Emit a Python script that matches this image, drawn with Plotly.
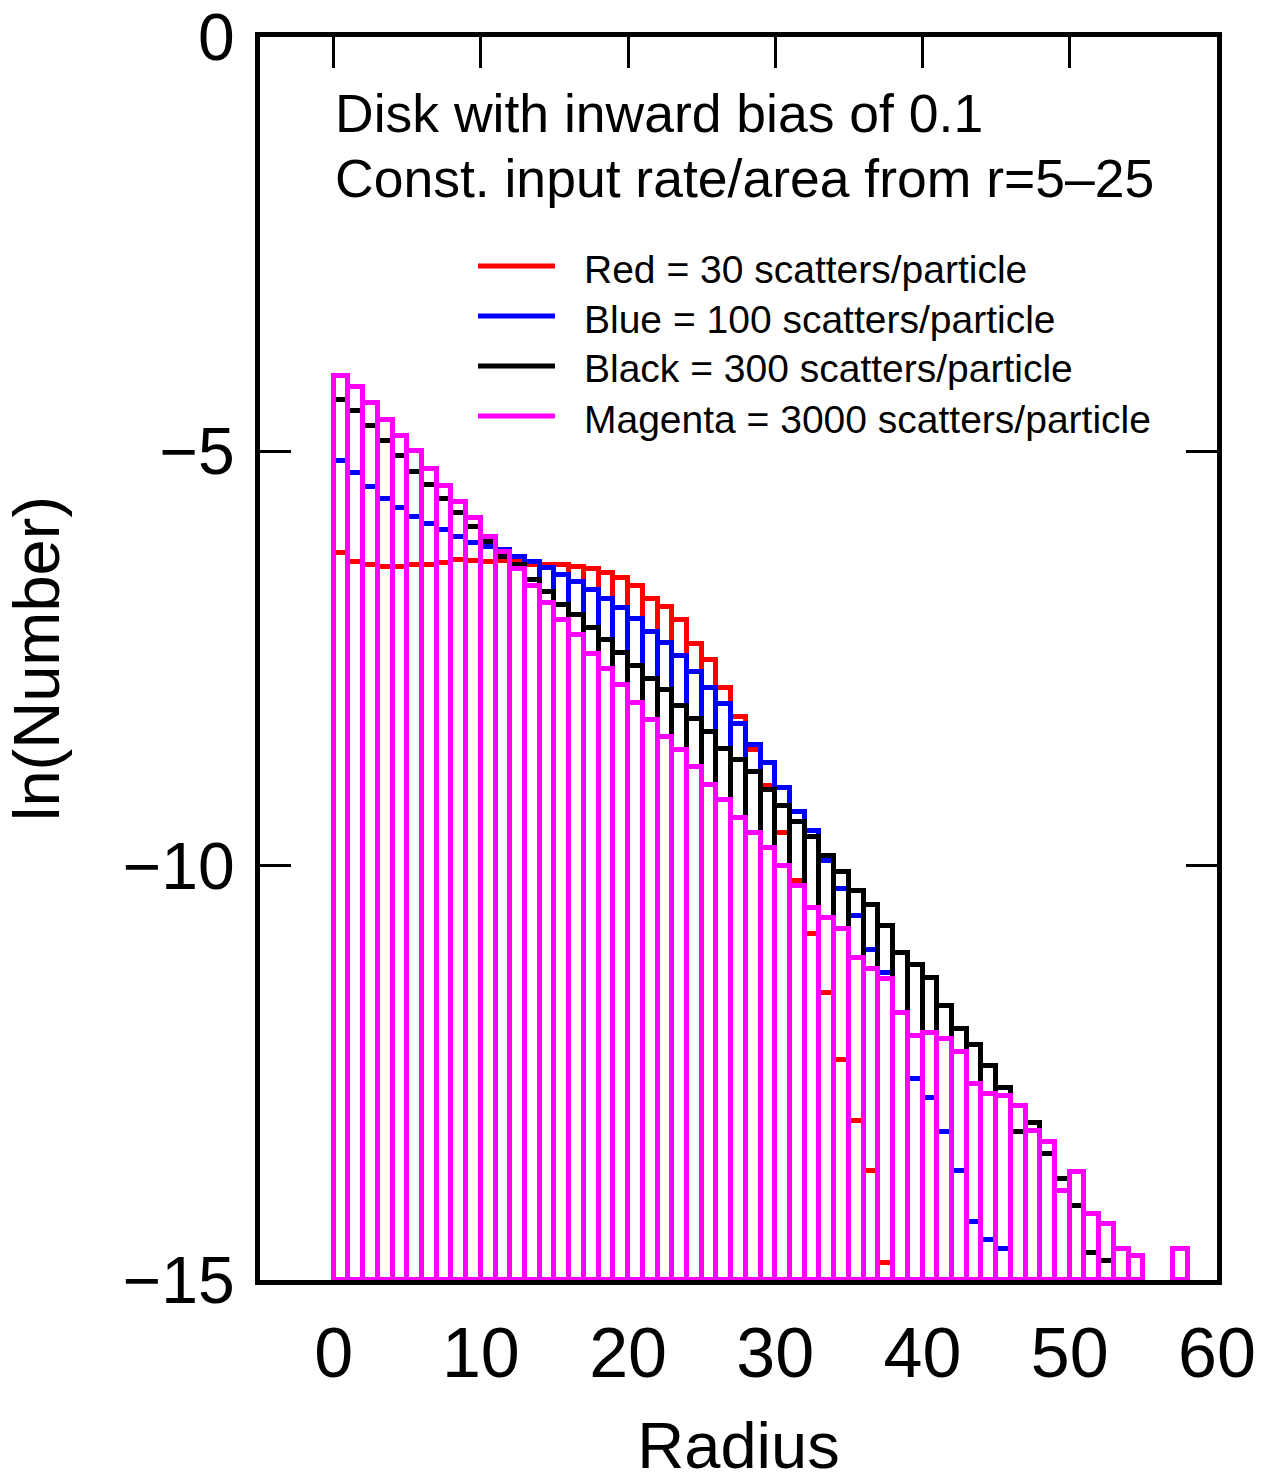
import plotly.graph_objects as go

# Histogram values ln(Number) per radius bin (bin i spans [i, i+1]); None = empty bin
red = [-6.23, -6.33, -6.37, -6.39, -6.39, -6.37, -6.37, -6.35, -6.31, -6.32,
       -6.33, -6.32, -6.34, -6.37, -6.37, -6.37, -6.39, -6.42, -6.47, -6.53,
       -6.62, -6.78, -6.88, -7.03, -7.33, -7.52, -7.86, -8.20, -8.61, -9.04,
       -9.60, -10.19, -10.82, -11.54, -12.35, -13.08, -13.68, -14.79]
blue = [-5.12, -5.26, -5.43, -5.58, -5.68, -5.79, -5.88, -5.95, -6.03, -6.11,
        -6.15, -6.19, -6.27, -6.33, -6.41, -6.49, -6.58, -6.67, -6.78, -6.89,
        -7.02, -7.18, -7.31, -7.47, -7.66, -7.86, -8.05, -8.29, -8.54, -8.76,
        -9.06, -9.35, -9.58, -9.94, -10.28, -10.61, -11.02, -11.29, -11.78, -12.57,
        -12.80, -13.21, -13.69, -14.30, -14.52, -14.62]
black = [-4.375, -4.51, -4.69, -4.88, -5.06, -5.25, -5.41, -5.58, -5.75, -5.91,
         -6.09, -6.27, -6.37, -6.55, -6.70, -6.85, -6.98, -7.13, -7.28, -7.43,
         -7.59, -7.75, -7.88, -8.07, -8.23, -8.39, -8.59, -8.73, -8.87, -9.09,
         -9.28, -9.47, -9.65, -9.88, -10.08, -10.31, -10.47, -10.73, -11.05, -11.20,
         -11.35, -11.69, -11.97, -12.17, -12.42, -12.68, -13.21, -13.10, -13.48, -13.78,
         -14.11, -14.67, -14.77]
magenta = [-4.09, -4.22, -4.42, -4.62, -4.82, -5.00, -5.21, -5.42, -5.61, -5.81,
           -6.03, -6.21, -6.42, -6.63, -6.83, -7.03, -7.22, -7.44, -7.63, -7.82,
           -8.04, -8.24, -8.45, -8.61, -8.81, -9.03, -9.21, -9.42, -9.60, -9.79,
           -10.00, -10.25, -10.51, -10.63, -10.77, -11.11, -11.25, -11.37, -11.78, -12.06,
           -12.02, -12.09, -12.25, -12.63, -12.76, -12.78, -12.90, -13.20, -13.33, -13.93,
           -13.70, -14.20, -14.32, -14.63, -14.71, None, None, -14.63]

series = [
    ("Red = 30 scatters/particle", red, "#ff0000"),
    ("Blue = 100 scatters/particle", blue, "#0000ff"),
    ("Black = 300 scatters/particle", black, "#000000"),
    ("Magenta = 3000 scatters/particle", magenta, "#ff00ff"),
]
title_lines = ["Disk with inward bias of 0.1", "Const. input rate/area from r=5\u201325"]
x_ticks = [0, 10, 20, 30, 40, 50, 60]
y_ticks = [0, -5, -10, -15]
x_range = [-5, 60]
y_range = [-15, 0]
y_base = -15

FONT = "Liberation Sans, Arial, Helvetica, sans-serif"
W, H = 1265, 1482
L, R, T, B = 260, 48, 37, 202
pw, ph = W - L - R, H - T - B

def px(xp):
    return (xp - L) / pw

def py(yp):
    return 1 - (yp - T) / ph

fig = go.Figure()
for name, vals, col in series:
    xs = [i + 0.5 for i, v in enumerate(vals) if v is not None]
    hs = [v - y_base for v in vals if v is not None]
    fig.add_trace(go.Bar(
        x=xs, y=hs, base=y_base, width=1, name=name, showlegend=False,
        marker=dict(color="rgba(0,0,0,0)", line=dict(color=col, width=5)),
    ))
# empty trace that carries the top (tick-only) x axis
fig.add_trace(go.Scatter(x=[], y=[], xaxis="x2", yaxis="y", showlegend=False))

annotations = []
shapes = []
for k, t in enumerate(title_lines):
    annotations.append(dict(
        text=t, xref="paper", yref="paper", x=px(333), y=py(114 + 65 * k),
        xanchor="left", yanchor="middle", showarrow=False,
        font=dict(family=FONT, size=53.5, color="black")))
for k, (name, vals, col) in enumerate(series):
    yy = 266 + 50 * k
    shapes.append(dict(type="line", xref="paper", yref="paper",
                       x0=px(478), x1=px(555), y0=py(yy), y1=py(yy),
                       line=dict(color=col, width=5)))
    annotations.append(dict(
        text=name, xref="paper", yref="paper", x=px(582), y=py(yy + 3),
        xanchor="left", yanchor="middle", showarrow=False,
        font=dict(family=FONT, size=39, color="black")))

titlefont = dict(family=FONT, size=65, color="black")

fig.update_layout(
    width=W, height=H,
    margin=dict(l=L, r=R, t=T, b=B, autoexpand=False),
    paper_bgcolor="white", plot_bgcolor="white",
    barmode="overlay", bargap=0,
    annotations=annotations, shapes=shapes,
    xaxis=dict(range=x_range, tickvals=x_ticks, ticks="", showline=True, linewidth=5,
               linecolor="black", mirror=True, showgrid=False, zeroline=False,
               tickfont=dict(family=FONT, size=70, color="black"),
               ticklabelstandoff=8, ticklabeloverflow="allow",
               title=dict(text="Radius", font=titlefont, standoff=52)),
    xaxis2=dict(range=x_range, tickvals=x_ticks, overlaying="x", side="top", matches="x",
                ticks="inside", ticklen=31, tickwidth=3, tickcolor="black",
                showticklabels=False, showline=False, showgrid=False, zeroline=False),
    yaxis=dict(range=y_range, tickvals=y_ticks, ticks="inside", ticklen=31, tickwidth=3,
               tickcolor="black", showline=True, linewidth=5, linecolor="black",
               mirror="ticks", showgrid=False, zeroline=False,
               tickfont=dict(family=FONT, size=66, color="black"),
               ticklabelstandoff=7, ticklabeloverflow="allow",
               title=dict(text="ln(Number)", font=titlefont, standoff=46)),
)

fig.write_html("out.html")
